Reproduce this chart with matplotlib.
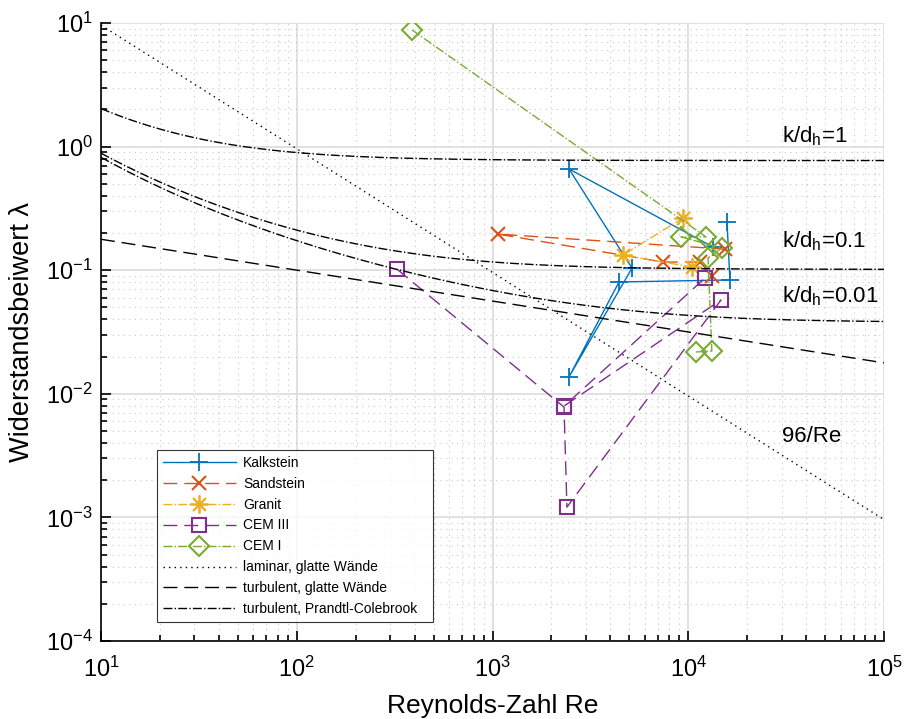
import numpy as np
import matplotlib
matplotlib.use("Agg")
import matplotlib.pyplot as plt
from matplotlib.ticker import LogLocator, NullFormatter

plt.rcParams['font.family'] = ['Liberation Sans', 'DejaVu Sans']
plt.rcParams['mathtext.fontset'] = 'custom'
plt.rcParams['mathtext.rm'] = 'Liberation Sans'
plt.rcParams['mathtext.it'] = 'Liberation Sans:italic'
plt.rcParams['mathtext.default'] = 'regular'

# measured data (Re, lambda)
kalk_re = [13380, 2460, 5160, 2460, 4430, 16330, 15780]
kalk_lam = [0.154, 0.659, 0.104, 0.0137, 0.0803, 0.0834, 0.2455]

sand_re = [15420, 1067, 7430, 11480, 13220]
sand_lam = [0.148, 0.196, 0.1164, 0.1164, 0.0897]

gran_re = [9400, 4640, 10450]
gran_lam = [0.264, 0.1327, 0.106]

cem3_re = [325, 2320, 2400, 14700, 2330, 12200]
cem3_lam = [0.102, 0.0078, 0.00121, 0.0574, 0.0080, 0.0865]

cem1_re = [388, 12320, 9180, 14860, 12620, 13200, 10970]
cem1_lam = [8.78, 0.186, 0.186, 0.151, 0.1256, 0.0222, 0.0218]

rel_rough = [1, 0.1, 0.01]
rough_labels = ['k/d$_h$=1', 'k/d$_h$=0.1', 'k/d$_h$=0.01']
label_y = [1.09, 0.154, 0.0553]

# reference curves
re = np.logspace(1, 5, 400)
lam_lam = 96 / re
lam_blasius = 0.3164 / re ** 0.25


def colebrook(re, kd):
    lam = np.full_like(re, 0.05)
    for _ in range(200):
        lam = (-2 * np.log10(2.51 / (re * np.sqrt(lam)) + kd / 3.71)) ** -2
    return lam


fig = plt.figure(figsize=(9.07, 7.19), dpi=100)
ax = fig.add_axes([0.1114, 0.1085, 0.8632, 0.8595])

ax.loglog(kalk_re, kalk_lam, '-', color='#0072BD', lw=1, marker='+', ms=13, mew=1.3, label='Kalkstein')
ax.loglog(sand_re, sand_lam, '--', color='#D95319', lw=1, marker='x', ms=10, mew=1.5,
          dashes=(10, 5), label='Sandstein')
ax.loglog(gran_re, gran_lam, '-.', color='#EDB120', lw=1, marker=(8, 2, 0), ms=13, mew=1.3,
          label='Granit')
ax.loglog(cem3_re, cem3_lam, '--', color='#7E2F8E', lw=1, marker='s', ms=10, mew=1.5,
          mfc='none', dashes=(10, 5), label='CEM III')
ax.loglog(cem1_re, cem1_lam, '-.', color='#77AC30', lw=1, marker='D', ms=10, mew=1.5,
          mfc='none', label='CEM I')
ax.loglog(re, lam_lam, color='k', lw=1, dashes=(1, 3), label='laminar, glatte Wände')
ax.loglog(re, lam_blasius, '--', color='k', lw=1, dashes=(10, 5), label='turbulent, glatte Wände')
for i, kd in enumerate(rel_rough):
    ax.loglog(re, colebrook(re, kd), '-.', color='k', lw=1,
              label='turbulent, Prandtl-Colebrook' if i == 0 else None)
    ax.text(3.0e4, label_y[i], rough_labels[i], fontsize=16)
ax.text(3.0e4, 0.00407, '96/Re', fontsize=16)

ax.set_xlim(10, 1e5)
ax.set_ylim(1e-4, 10)
ax.xaxis.set_major_locator(LogLocator(base=10, numticks=10))
ax.yaxis.set_major_locator(LogLocator(base=10, numticks=10))
ax.xaxis.set_minor_locator(LogLocator(base=10, subs=np.arange(2, 10), numticks=20))
ax.yaxis.set_minor_locator(LogLocator(base=10, subs=np.arange(2, 10), numticks=20))
ax.xaxis.set_minor_formatter(NullFormatter())
ax.yaxis.set_minor_formatter(NullFormatter())

ax.grid(which='major', color='#dcdcdc', lw=1.2, ls='-')
ax.grid(which='minor', color='#c8c8c8', lw=0.8, ls=(0, (1, 4)))
ax.set_axisbelow(True)
for s in ['top', 'right']:
    ax.spines[s].set_visible(False)
for s in ['left', 'bottom']:
    ax.spines[s].set_linewidth(1.2)
ax.tick_params(which='both', direction='in', labelsize=17, width=1.2)
ax.tick_params(which='major', length=7)
ax.tick_params(which='minor', length=4)
ax.tick_params(axis='x', which='major', pad=11)
ax.tick_params(axis='y', which='major', pad=6)

ax.set_xlabel('Reynolds-Zahl Re', fontsize=19, labelpad=9)
ax.set_ylabel('Widerstandsbeiwert λ', fontsize=19.5, labelpad=8)

leg = ax.legend(loc='lower left', bbox_to_anchor=(0.0715, 0.031, 0.3525, 0.2), mode='expand',
                fontsize=10, handlelength=5.3, handletextpad=0.5, frameon=True, fancybox=False,
                edgecolor='k', borderpad=0.4, labelspacing=0.5, borderaxespad=0)
leg.get_frame().set_linewidth(0.8)

fig.savefig('out.png', dpi=100, facecolor='white')
